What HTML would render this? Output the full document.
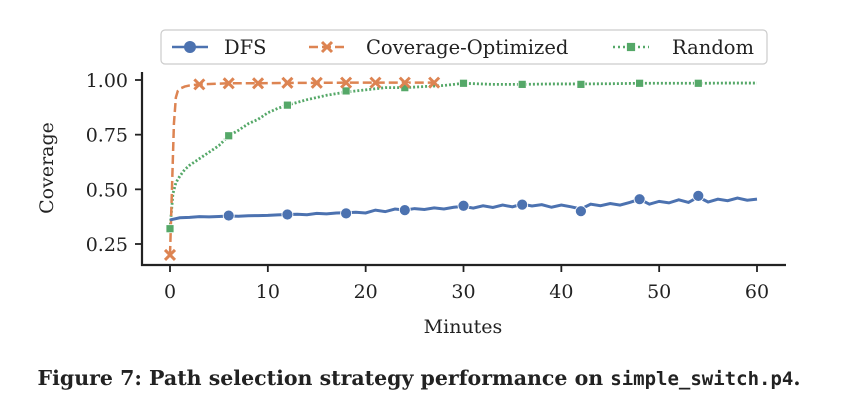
<!DOCTYPE html>
<html><head><meta charset="utf-8"><style>
body{margin:0;background:#fff;width:866px;height:410px;overflow:hidden}
svg text{font-family:"DejaVu Serif","Liberation Serif",serif;fill:#222}
</style></head><body>
<svg id="c" width="866" height="410">
<g id="plot"></g>
<text x="419" y="385" text-anchor="middle" font-size="20.5" font-weight="bold">Figure 7: Path selection strategy performance on <tspan font-family="DejaVu Sans Mono" font-size="19">simple_switch.p4</tspan>.</text>
</svg>
<script>
const minutes=[0,1,2,3,4,5,6,7,8,9,10,11,12,13,14,15,16,17,18,19,20,21,22,23,24,25,26,27,28,29,30,31,32,33,34,35,36,37,38,39,40,41,42,43,44,45,46,47,48,49,50,51,52,53,54,55,56,57,58,59,60];
const dfsValues=[0.36,0.37,0.372,0.375,0.374,0.376,0.378,0.377,0.379,0.38,0.381,0.383,0.385,0.386,0.384,0.39,0.388,0.392,0.393,0.395,0.392,0.405,0.398,0.41,0.405,0.412,0.408,0.415,0.41,0.418,0.422,0.414,0.425,0.417,0.428,0.42,0.432,0.424,0.43,0.418,0.428,0.42,0.41,0.432,0.425,0.435,0.428,0.44,0.455,0.432,0.445,0.438,0.452,0.44,0.465,0.442,0.455,0.448,0.46,0.45,0.455];
const covMinutes=[0,0.2,0.4,0.6,0.8,1,1.5,2,3,6,9,12,15,18,21,24,27];
const covValues=[0.2,0.5,0.8,0.92,0.95,0.96,0.97,0.975,0.98,0.985,0.985,0.987,0.987,0.988,0.988,0.988,0.988];
const randMinutes=[0,0.3,0.6,1,1.5,2,3,4,5,6,7,8,9,10,11,12,14,16,18,20,22,24,26,28,30,33,36,39,42,45,48,51,54,57,60];
const randValues=[0.32,0.48,0.53,0.56,0.59,0.61,0.64,0.67,0.7,0.745,0.77,0.8,0.82,0.85,0.87,0.885,0.91,0.93,0.945,0.955,0.965,0.965,0.97,0.975,0.985,0.98,0.98,0.982,0.982,0.983,0.985,0.985,0.985,0.986,0.986];
const dfsMarkX=[6,12,18,24,30,36,42,48,54];
const dfsMarkY=[0.38,0.385,0.39,0.405,0.425,0.43,0.40,0.455,0.47];
const covMarkX=[0,3,6,9,12,15,18,21,24,27];
const covMarkY=[0.2,0.98,0.985,0.985,0.987,0.987,0.988,0.988,0.988,0.988];
const randMarkX=[0,6,12,18,24,30,36,42,48,54];
const randMarkY=[0.32,0.745,0.885,0.95,0.965,0.985,0.98,0.98,0.985,0.985];
const xTicks=[0,10,20,30,40,50,60];
const yTicks=[0.25,0.5,0.75,1.0];
const yTickLabels=["0.25","0.50","0.75","1.00"];

const NS="http://www.w3.org/2000/svg";
const g=document.getElementById('plot');
const X=v=>170+v*(757-170)/60;
const Y=v=>244-(v-0.25)*(164/0.75);
function el(t,a){const e=document.createElementNS(NS,t);for(const k in a)e.setAttribute(k,a[k]);g.appendChild(e);return e;}
const BLUE="#4c72b0",ORANGE="#dd8452",GREEN="#55a868";
let e=el('line',{x1:142,y1:72,x2:142,y2:266,stroke:'#222','stroke-width':2.2});

e=el('line',{x1:141,y1:265,x2:786,y2:265,stroke:'#222','stroke-width':2.2});

xTicks.forEach(t=>{
 let l=el('line',{x1:X(t),y1:265,x2:X(t),y2:272,stroke:'#222','stroke-width':1.8});
 
 let tx=el('text',{x:X(t),y:298,'text-anchor':'middle','font-size':19});tx.textContent=t;
 
});
yTicks.forEach((t,i)=>{
 let l=el('line',{x1:135,y1:Y(t),x2:142,y2:Y(t),stroke:'#222','stroke-width':1.8});
 
 let tx=el('text',{x:128,y:Y(t)+7,'text-anchor':'end','font-size':19});tx.textContent=yTickLabels[i];
 
});
e=el('text',{x:463,y:333,'text-anchor':'middle','font-size':19});e.textContent='Minutes';

e=el('text',{x:53,y:168,'text-anchor':'middle','font-size':19,transform:'rotate(-90 53 168)'});e.textContent='Coverage';

function pts(xs,ys){return xs.map((x,i)=>X(x)+','+Y(ys[i])).join(' ');}
e=el('polyline',{points:pts(randMinutes,randValues),fill:'none',stroke:GREEN,'stroke-width':2.8,'stroke-dasharray':'2 2'});

e=el('polyline',{points:pts(covMinutes,covValues),fill:'none',stroke:ORANGE,'stroke-width':2.5,'stroke-dasharray':'9 4'});

e=el('polyline',{points:pts(minutes,dfsValues),fill:'none',stroke:BLUE,'stroke-width':3});

function sq(x,y,s){return el('rect',{x:x-s/2,y:y-s/2,width:s,height:s,fill:GREEN,stroke:'#fff','stroke-width':0.8});}
function cross(x,y,s){const p=`M${x-s},${y-s}L${x+s},${y+s}M${x-s},${y+s}L${x+s},${y-s}`;return el('path',{d:p,stroke:ORANGE,'stroke-width':3});}
randMarkX.forEach((x,i)=>{let m=sq(X(x),Y(randMarkY[i]),8);});
covMarkX.forEach((x,i)=>{let m=cross(X(x),Y(covMarkY[i]),5);});
dfsMarkX.forEach((x,i)=>{let m=el('circle',{cx:X(x),cy:Y(dfsMarkY[i]),r:5.5,fill:BLUE,stroke:'#fff','stroke-width':0.8});});
e=el('rect',{x:161,y:30,width:606,height:34,rx:4,fill:'#fff',stroke:'#ccc','stroke-width':1.2});

e=el('line',{x1:172,y1:47,x2:208,y2:47,stroke:BLUE,'stroke-width':2.5});
e=el('circle',{cx:190,cy:47,r:6,fill:BLUE});
e=el('text',{x:224,y:54,'font-size':19.5});e.textContent='DFS';
e=el('line',{x1:309,y1:47,x2:345,y2:47,stroke:ORANGE,'stroke-width':2.5,'stroke-dasharray':'9 4'});
e=cross(327,47,5);
e=el('text',{x:366,y:54,'font-size':19.5});e.textContent='Coverage-Optimized';
e=el('line',{x1:613,y1:47,x2:649,y2:47,stroke:GREEN,'stroke-width':2.5,'stroke-dasharray':'2 3'});
e=sq(631,47,9);
e=el('text',{x:672,y:54,'font-size':19.5});e.textContent='Random';
</script>
</body></html>
